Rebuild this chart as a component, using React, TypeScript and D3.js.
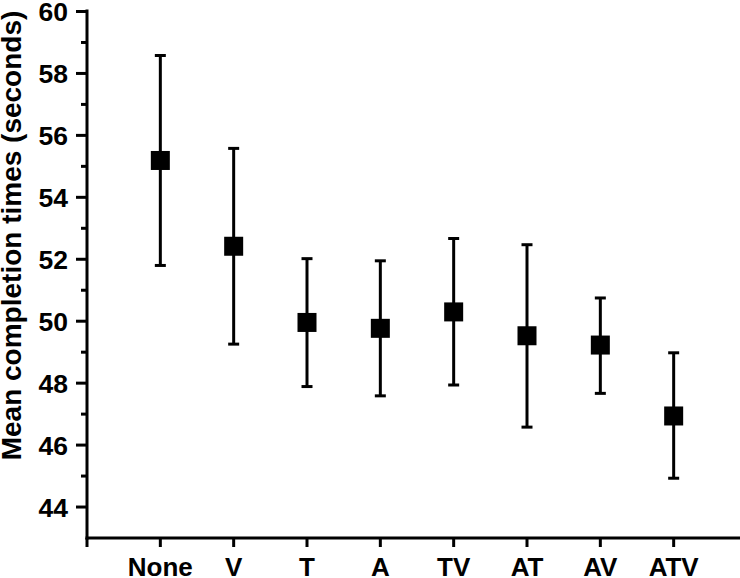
import React from "react";
import * as d3 from "d3";

const categories = ["None", "V", "T", "A", "TV", "AT", "AV", "ATV"];
const means = [55.19, 52.42, 49.96, 49.77, 50.3, 49.53, 49.23, 46.94];
const upper = [58.58, 55.58, 52.02, 51.95, 52.67, 52.47, 50.75, 48.98];
const lower = [51.8, 49.26, 47.89, 47.59, 47.94, 46.58, 47.67, 44.93];
const majorTicks = [44, 46, 48, 50, 52, 54, 56, 58, 60];
const minorTicks = [45, 47, 49, 51, 53, 55, 57, 59];
const yTitle = "Mean completion times (seconds)";

const W = 740;
const H = 578;
const FONT = "'Liberation Sans', Arial, sans-serif";

export default function App() {
  const y = d3.scaleLinear().domain([43, 60]).range([538, 11.5]);
  const x = d3.scaleLinear().domain([0, 9]).range([87, 747]);
  const axisY = y(43);
  const xTicks = d3.range(0, categories.length + 1);
  const sq = 19;
  const cap = 11;
  return (
    <svg
      width={W}
      height={H}
      style={{ position: "absolute", left: 0, top: 0, background: "#fff" }}
      fontFamily={FONT}
    >
      <rect width={W} height={H} fill="#fff" />
      {/* y axis */}
      <line x1={x(0)} x2={x(0)} y1={y(60) - 2} y2={axisY + 1.5} stroke="#000" strokeWidth={3} />
      {majorTicks.map((t) => (
        <g key={"M" + t}>
          <line x1={x(0) - 11} x2={x(0)} y1={y(t)} y2={y(t)} stroke="#000" strokeWidth={3} />
          <text
            x={x(0) - 19}
            y={y(t)}
            dy="0.36em"
            textAnchor="end"
            fontSize={26.5}
            fontWeight="bold"
          >
            {t}
          </text>
        </g>
      ))}
      {minorTicks.map((t) => (
        <line key={"m" + t} x1={x(0) - 6} x2={x(0)} y1={y(t)} y2={y(t)} stroke="#000" strokeWidth={3} />
      ))}
      {/* x axis */}
      <line x1={x(0) - 1.5} x2={W} y1={axisY} y2={axisY} stroke="#000" strokeWidth={3} />
      {xTicks.map((i) => (
        <line key={"xt" + i} x1={x(i)} x2={x(i)} y1={axisY} y2={axisY + 9} stroke="#000" strokeWidth={3} />
      ))}
      {categories.map((c, i) => (
        <text
          key={"xl" + c}
          x={x(i + 1)}
          y={576}
          textAnchor="middle"
          fontSize={26}
          fontWeight="bold"
        >
          {c}
        </text>
      ))}
      {/* y title */}
      <text
        transform={`translate(21, ${(13 + 458) / 2}) rotate(-90)`}
        textAnchor="middle"
        fontSize={28}
        fontWeight="bold"
      >
        {yTitle}
      </text>
      {/* error bars and markers */}
      {categories.map((c, i) => {
        const cx = x(i + 1);
        return (
          <g key={"pt" + c}>
            <line x1={cx} x2={cx} y1={y(upper[i])} y2={y(lower[i])} stroke="#000" strokeWidth={3} />
            <line x1={cx - cap / 2} x2={cx + cap / 2} y1={y(upper[i])} y2={y(upper[i])} stroke="#000" strokeWidth={3} />
            <line x1={cx - cap / 2} x2={cx + cap / 2} y1={y(lower[i])} y2={y(lower[i])} stroke="#000" strokeWidth={3} />
            <rect x={cx - sq / 2} y={y(means[i]) - sq / 2} width={sq} height={sq} fill="#000" />
          </g>
        );
      })}
    </svg>
  );
}
